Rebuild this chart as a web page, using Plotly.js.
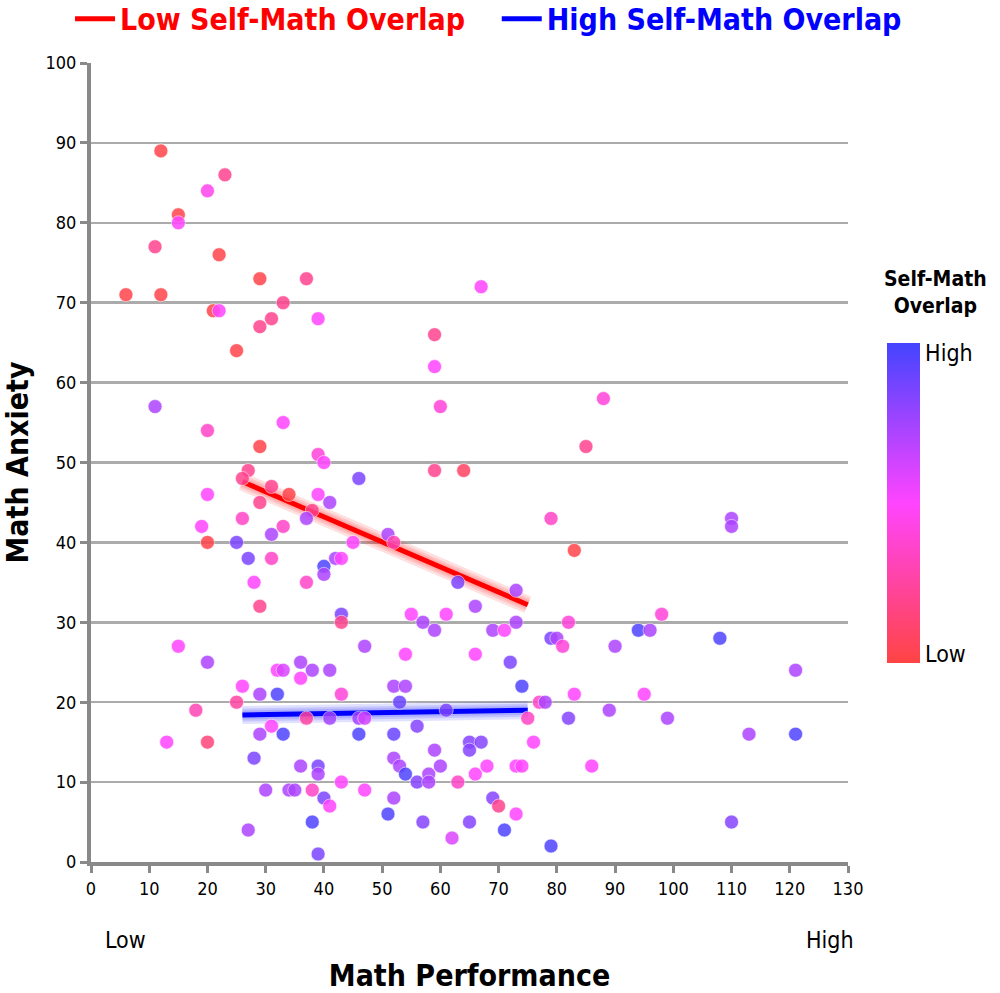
<!DOCTYPE html>
<html>
<head>
<meta charset="utf-8">
<script src="https://cdn.plot.ly/plotly-3.0.1.min.js"></script>
<style>html,body{margin:0;padding:0;background:#fff;}#chart{width:1000px;height:993px;}</style>
</head>
<body>
<div id="chart"></div>
<script>
// Math performance (x), math anxiety (y), self-math overlap (0 = low, 1 = high)
const performance = [12,23,20,15,15,11,22,29,37,6,12,33,21,22,31,39,29,25,11,20,33,29,39,40,27,26,31,34,39,20,29,38,41,26,37,19,33,31,20,25,27,31,40,40,28,37,29,15,60,59,64,46,79,51,52,45,42,43,63,73,43,43,55,57,61,66,59,69,71,73,79,80,47,20,26,32,33,36,38,41,36,29,32,25,18,37,41,31,29,33,13,20,28,36,39,39,30,34,35,38,40,41,38,27,39,54,66,72,52,54,43,74,53,61,77,78,46,47,75,46,52,56,65,67,65,59,76,52,53,54,56,58,58,60,63,66,68,73,74,43,47,52,69,70,73,51,57,65,71,62,79,67,59,59,88,85,110,110,83,82,98,94,96,108,81,90,121,83,95,82,89,99,113,121,86,110];
const anxiety = [89,86,84,81,80,77,76,73,73,71,71,70,69,69,68,68,67,64,57,54,55,52,51,50,49,48,47,46,46,46,45,44,45,43,43,42,42,41,40,40,38,38,37,36,35,35,32,27,57,49,49,48,43,41,40,40,38,38,35,34,31,30,31,30,31,32,29,29,29,30,28,28,27,25,22,24,24,25,24,24,23,21,21,20,19,18,18,17,16,16,15,15,13,12,12,11,9,9,9,9,8,7,5,4,1,26,26,25,22,22,21,22,20,19,20,20,18,18,18,16,16,17,15,15,14,14,15,13,12,11,10,11,10,12,10,11,12,12,12,10,9,8,8,7,6,6,5,5,4,3,2,72,66,62,58,52,43,42,39,30,31,29,29,28,27,27,24,21,21,18,19,18,16,16,12,5];
const overlap = [0.02,0.2,0.45,0.02,0.5,0.2,0.02,0.02,0.2,0.02,0.02,0.2,0.02,0.5,0.2,0.5,0.2,0.02,0.72,0.35,0.5,0.02,0.4,0.5,0.2,0.2,0.2,0.02,0.5,0.5,0.2,0.2,0.72,0.35,0.72,0.5,0.35,0.72,0.02,0.85,0.85,0.35,0.97,0.72,0.5,0.35,0.2,0.5,0.4,0.2,0.08,0.85,0.35,0.72,0.3,0.5,0.72,0.5,0.85,0.72,0.85,0.2,0.5,0.72,0.5,0.72,0.72,0.72,0.5,0.72,0.85,0.72,0.72,0.72,0.5,0.5,0.6,0.72,0.72,0.72,0.5,0.72,0.97,0.25,0.3,0.25,0.75,0.5,0.72,0.97,0.5,0.15,0.85,0.72,0.85,0.72,0.72,0.72,0.72,0.35,0.85,0.5,0.97,0.72,0.85,0.5,0.5,0.85,0.72,0.72,0.4,0.97,0.9,0.85,0.35,0.72,0.75,0.62,0.35,0.97,0.9,0.82,0.82,0.82,0.82,0.72,0.5,0.72,0.72,0.97,0.82,0.72,0.72,0.72,0.35,0.5,0.5,0.5,0.5,0.5,0.5,0.72,0.82,0.2,0.5,0.97,0.82,0.82,0.97,0.6,0.97,0.5,0.2,0.5,0.4,0.2,0.72,0.72,0.02,0.4,0.4,0.97,0.72,0.97,0.4,0.72,0.72,0.5,0.5,0.82,0.72,0.72,0.72,0.97,0.5,0.82];

// Regression lines (end points)
const lowLineX = [26, 75];
const lowLineY = [47.6, 32.2];
const highLineX = [26, 75];
const highLineY = [18.4, 19.0];

const xTicks = [0,10,20,30,40,50,60,70,80,90,100,110,120,130];
const yTicks = [0,10,20,30,40,50,60,70,80,90,100];
const cbTickVals = [0.03, 0.97];
const cbTickText = ['Low', 'High'];

const FONT = "'Liberation Sans Narrow', 'DejaVu Sans Condensed', 'Arial Narrow', sans-serif";

function glow(x, y, rgb) {
  return [18, 13, 9].map(w => ({x: x, y: y, mode: 'lines', showlegend: false, hoverinfo: 'skip',
    line: {color: 'rgba(' + rgb + ',0.12)', width: w}}));
}

const traces = [
  ...glow(lowLineX, lowLineY, '255,0,0'),
  ...glow(highLineX, highLineY, '0,0,255'),
  {x: lowLineX, y: lowLineY, mode: 'lines', line: {color: '#ff0000', width: 5}, legend: 'legend',
   name: '<b><span style="color:#ff0000">Low Self-Math Overlap</span></b>'},
  {x: highLineX, y: highLineY, mode: 'lines', line: {color: '#0000ff', width: 5}, legend: 'legend2',
   name: '<b><span style="color:#0000ff">High Self-Math Overlap</span></b>'},
  {x: performance, y: anxiety, mode: 'markers', showlegend: false,
   marker: {size: 14, color: overlap, cmin: 0, cmax: 1, opacity: 0.85,
     colorscale: [[0, '#ff4444'], [0.5, '#ff44ff'], [1, '#4444ff']],
     line: {color: 'rgba(255,255,255,0.6)', width: 1},
     colorbar: {x: 1.0515, xanchor: 'left', xpad: 0, y: 0.249, yanchor: 'bottom', ypad: 0,
       len: 0.4006, lenmode: 'fraction', thickness: 33, outlinewidth: 0,
       tickvals: cbTickVals, ticktext: cbTickText, ticks: '',
       tickfont: {family: FONT, size: 23, color: '#000'}}}}
];

const legendBase = {orientation: 'h', xanchor: 'left', y: 1.088, yanchor: 'top',
  font: {family: FONT, size: 30}, bgcolor: 'rgba(0,0,0,0)', itemwidth: 40};

const layout = {
  width: 1000, height: 993,
  margin: {l: 91, r: 152, t: 63, b: 131, autoexpand: false},
  paper_bgcolor: '#fff', plot_bgcolor: '#fff',
  font: {family: FONT, color: '#000'},
  showlegend: true,
  legend: Object.assign({}, legendBase, {x: -0.0277}),
  legend2: Object.assign({}, legendBase, {x: 0.536}),
  xaxis: {range: [0, 130], tickvals: xTicks, showgrid: false, zeroline: false,
    showline: true, linecolor: '#898989', linewidth: 4, ticks: 'outside', ticklen: 7, tickwidth: 3, tickcolor: '#898989',
    tickfont: {family: FONT, size: 18, color: '#000'},
    title: {text: '<b>Math Performance</b>', font: {family: FONT, size: 30, color: '#000'}, standoff: 68}},
  yaxis: {range: [0, 100], tickvals: yTicks, showgrid: true, gridcolor: '#ababab', gridwidth: 2.5, zeroline: false,
    showline: true, linecolor: '#898989', linewidth: 4, ticks: 'outside', ticklen: 7, tickwidth: 3, tickcolor: '#898989',
    tickfont: {family: FONT, size: 18, color: '#000'},
    title: {text: '<b>Math Anxiety</b>', font: {family: FONT, size: 30, color: '#000'}, standoff: 14}},
  annotations: [
    {text: '<b>Self-Math<br>Overlap</b>', xref: 'paper', yref: 'paper', x: 1.115, y: 0.713,
     xanchor: 'center', yanchor: 'middle',
     showarrow: false, font: {family: FONT, size: 21, color: '#000'}, align: 'center'},
    {text: 'Low', xref: 'paper', yref: 'paper', x: 0.045, y: -0.0976, xanchor: 'center', yanchor: 'middle', showarrow: false,
     font: {family: FONT, size: 23, color: '#000'}},
    {text: 'High', xref: 'paper', yref: 'paper', x: 0.976, y: -0.0976, xanchor: 'center', yanchor: 'middle', showarrow: false,
     font: {family: FONT, size: 23, color: '#000'}}
  ]
};

Plotly.newPlot('chart', traces, layout, {displayModeBar: false, staticPlot: true});
</script>
</body>
</html>
